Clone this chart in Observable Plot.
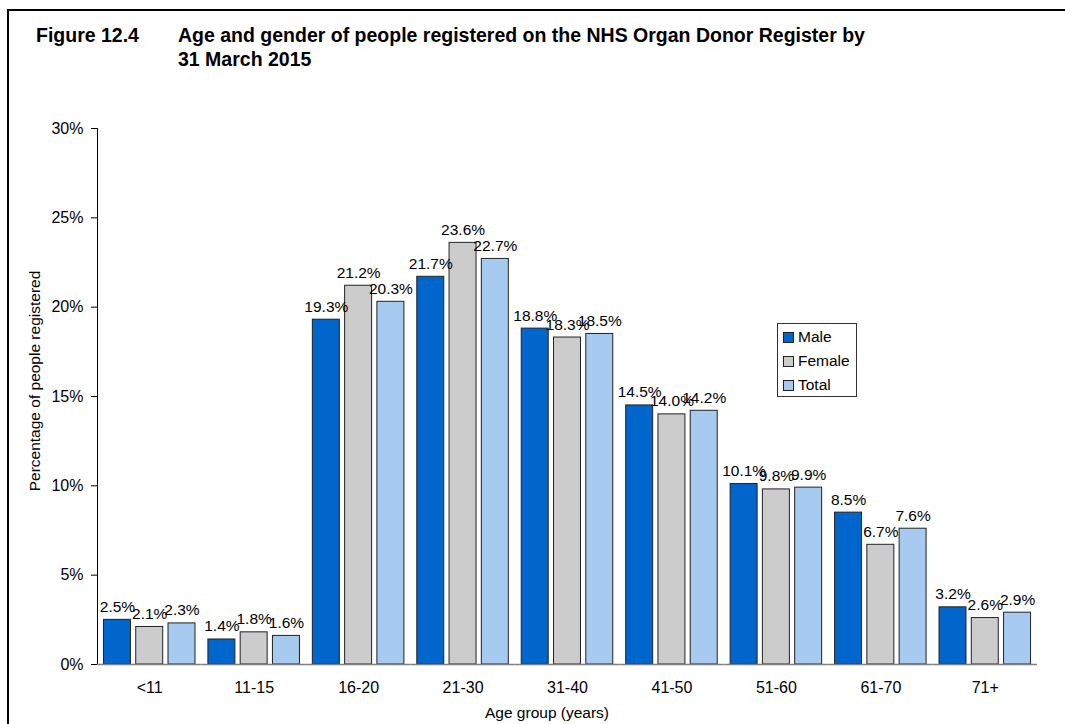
<!DOCTYPE html>
<html>
<head>
<meta charset="utf-8">
<script src="https://cdn.jsdelivr.net/npm/d3@7"></script>
<script src="https://cdn.jsdelivr.net/npm/@observablehq/plot@0.6"></script>
<style>
  html, body { margin: 0; padding: 0; background: #fff; overflow: hidden; width: 1065px; height: 724px; }
  body { position: relative; font-family: "Liberation Sans", Arial, sans-serif; color: #000; }
  #frame { position: absolute; left: 7px; top: 9px; width: 2000px; height: 2000px; border: 2px solid #000; box-sizing: border-box; }
  #title { position: absolute; left: 36px; top: 23px; font-weight: bold; font-size: 19.5px; line-height: 24px; display: flex; }
  #title .num { width: 142px; flex: none; }
  #chart { position: absolute; left: 0; top: 110px; }
  #chart svg g[aria-label*="tick label"], #chart svg g[aria-label$="-axis"] { font-size: 16px; }
  #ylabel { position: absolute; left: 35px; top: 381px; transform: translate(-50%, -50%) rotate(-90deg); font-size: 15.5px; white-space: nowrap; }
  #xlabel { position: absolute; left: 547px; top: 713px; transform: translate(-50%, -50%); font-size: 15.5px; white-space: nowrap; }
  #legend { position: absolute; left: 777px; top: 323px; width: 80px; height: 74px; border: 1px solid #333; box-sizing: border-box; background: #fff; font-size: 15.5px; padding: 1px 0 0 5px; }
  #legend .item { display: flex; align-items: center; height: 24px; }
  #legend .sw { width: 9px; height: 9px; border: 1px solid #222; margin-right: 4px; flex: none; }
</style>
</head>
<body>
<div id="frame"></div>
<div id="title"><span class="num">Figure 12.4</span><span>Age and gender of people registered on the NHS Organ Donor Register by<br>31 March 2015</span></div>
<div id="chart"></div>
<div id="ylabel">Percentage of people registered</div>
<div id="xlabel">Age group (years)</div>
<div id="legend"></div>
<script>
const ages = ["<11", "11-15", "16-20", "21-30", "31-40", "41-50", "51-60", "61-70", "71+"];
const series = ["Male", "Female", "Total"];
const colors = ["#0066CC", "#CCCCCC", "#A6CAF0"];
const male = [2.5, 1.4, 19.3, 21.7, 18.8, 14.5, 10.1, 8.5, 3.2];
const female = [2.1, 1.8, 21.2, 23.6, 18.3, 14.0, 9.8, 6.7, 2.6];
const total = [2.3, 1.6, 20.3, 22.7, 18.5, 14.2, 9.9, 7.6, 2.9];
const yTicks = [0, 5, 10, 15, 20, 25, 30];

const values = [male, female, total];
const data = [];
ages.forEach((age, i) => {
  series.forEach((s, j) => {
    data.push({age, series: s, value: values[j][i], label: values[j][i].toFixed(1) + "%"});
  });
});

const chart = Plot.plot({
  width: 1065,
  height: 614,
  marginLeft: 97,
  marginRight: 28,
  marginTop: 18,
  marginBottom: 60,
  style: {fontFamily: "'Liberation Sans', Arial, sans-serif", fontSize: "16px", color: "#000", background: "transparent"},
  facet: {data, x: "age"},
  fx: {domain: ages, paddingInner: 0, paddingOuter: 0, round: false, label: null, tickSize: 0, tickPadding: 17},
  x: {domain: series, paddingInner: 0.164, paddingOuter: 0.2, round: false, axis: null},
  y: {domain: [0, 30], ticks: yTicks, tickFormat: d => d + "%", label: null, line: true, tickSize: 6, tickPadding: 8},
  color: {domain: series, range: colors},
  marks: [
    Plot.barY(data, {x: "series", y: "value", fill: "series", stroke: "#222", strokeWidth: 1}),
    Plot.ruleY([0], {stroke: "#808080", strokeWidth: 1.5}),
    Plot.text(data, {x: "series", y: "value", text: "label", dy: -13, fontSize: 15.5, fill: "#000"})
  ]
});
document.getElementById("chart").appendChild(chart);

const legend = document.getElementById("legend");
series.forEach((s, j) => {
  const item = document.createElement("div");
  item.className = "item";
  const sw = document.createElement("span");
  sw.className = "sw";
  sw.style.background = colors[j];
  const t = document.createElement("span");
  t.textContent = s;
  item.appendChild(sw);
  item.appendChild(t);
  legend.appendChild(item);
});
</script>
</body>
</html>
